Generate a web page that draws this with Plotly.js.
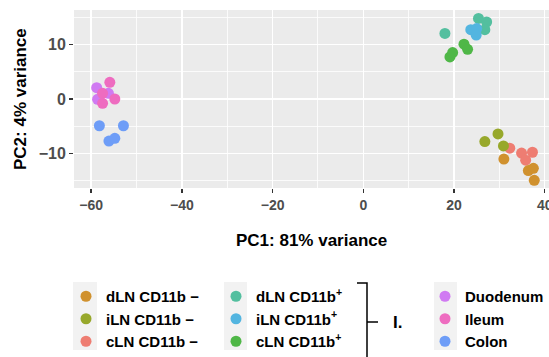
<!DOCTYPE html>
<html>
<head>
<meta charset="utf-8">
<script src="https://cdn.plot.ly/plotly-3.0.1.min.js"></script>
<style>html,body{margin:0;padding:0;background:#fff;}#chart{width:549px;height:357px;}</style>
</head>
<body>
<div id="chart"></div>
<script>
// Group names (legend labels)
const groupNames = ["cLN CD11b −", "dLN CD11b −", "iLN CD11b −",
                    "dLN CD11b<sup>+</sup>", "iLN CD11b<sup>+</sup>", "cLN CD11b<sup>+</sup>",
                    "Duodenum", "Ileum", "Colon"];
const groupColors = ["#EE7D72", "#D0912E", "#97A82B",
                     "#53BF9F", "#53B5E0", "#4FB747",
                     "#D07AF2", "#EE6CC0", "#6E9DF7"];
const groupLegend = ["legend", "legend", "legend",
                     "legend2", "legend2", "legend2",
                     "legend3", "legend3", "legend3"];
const groupRank = [3, 1, 2, 1, 2, 3, 1, 2, 3];

// PC1 / PC2 values per group
const pc1 = [
  [32.3, 34.9, 35.8, 37.3],          // cLN CD11b-
  [31.0, 36.4, 37.5, 37.7],          // dLN CD11b-
  [26.8, 29.7, 30.9],                // iLN CD11b-
  [18.0, 25.4, 27.2, 26.8],          // dLN CD11b+
  [23.7, 25.0, 24.9],                // iLN CD11b+
  [19.1, 19.7, 22.2, 23.0],          // cLN CD11b+
  [-58.8, -58.6, -56.2],             // Duodenum
  [-55.9, -57.5, -57.5, -54.8],      // Ileum
  [-58.2, -52.9, -56.1, -54.8]       // Colon
];
const pc2 = [
  [-9.0, -9.9, -11.2, -9.75],
  [-11.0, -13.1, -12.7, -14.9],
  [-7.8, -6.4, -8.6],
  [12.0, 14.75, 14.1, 12.7],
  [12.7, 12.9, 11.7],
  [7.7, 8.5, 10.05, 9.1],
  [2.07, -0.06, 1.04],
  [3.05, 1.04, -0.8, 0.0],
  [-4.9, -4.9, -7.7, -7.2]
];

const xTickVals = [-60, -40, -20, 0, 20, 40];
const xTickText = ["\u221260", "\u221240", "\u221220", "0", "20", "40"];
const yTickVals = [-10, 0, 10];
const yTickText = ["\u221210", "0", "10"];
const xTitle = "PC1: 81% variance";
const yTitle = "PC2: 4% variance";

const FONT = "Liberation Sans, Arial, Helvetica, sans-serif";

const traces = groupNames.map((name, i) => ({
  type: "scatter",
  mode: "markers",
  name: name,
  x: pc1[i],
  y: pc2[i],
  legend: groupLegend[i],
  legendrank: groupRank[i],
  marker: {color: groupColors[i], size: 11, line: {width: 0}},
  hoverinfo: "skip"
}));

// plot area geometry helpers for decoration shapes (paper coords)
const L = 74, R = 549, T = 10, B = 188;
const px = v => (v - L) / (R - L);
const py = v => (B - v) / (B - T);

const legendCommon = {
  bgcolor: "rgba(0,0,0,0)",
  font: {family: FONT, size: 15, color: "#000", weight: "bold"},
  xref: "container", yref: "container",
  yanchor: "top", xanchor: "left",
  itemclick: false, itemdoubleclick: false,
  tracegroupgap: 0
};

const titleFont = {family: FONT, size: 17, color: "#000", weight: "bold"};

const layout = {
  width: 549, height: 357,
  margin: {l: L, r: 549 - R, t: T, b: 357 - B, autoexpand: false},
  paper_bgcolor: "#ffffff",
  plot_bgcolor: "#EBEBEB",
  showlegend: true,
  legend: Object.assign({}, legendCommon, {x: 66 / 549, y: 1 - 280 / 357}),
  legend2: Object.assign({}, legendCommon, {x: 216 / 549, y: 1 - 280 / 357}),
  legend3: Object.assign({}, legendCommon, {x: 425 / 549, y: 1 - 280 / 357}),
  xaxis: {
    range: [-63.8, 40.95],
    tickvals: xTickVals, ticktext: xTickText, tickangle: 0,
    ticklabeloverflow: "allow",
    ticks: "outside", ticklen: 4, tickwidth: 1.5, tickcolor: "#333333",
    tickfont: {family: FONT, size: 14, color: "#4D4D4D", weight: "bold"},
    showgrid: true, gridcolor: "#FFFFFF", gridwidth: 1.6,
    minor: {tickvals: [-50, -30, -10, 10, 30], showgrid: true, gridcolor: "#FFFFFF", gridwidth: 0.8, ticks: ""},
    zeroline: false, showline: false,
    automargin: false
  },
  yaxis: {
    range: [-16.3, 16.3],
    tickvals: yTickVals, ticktext: yTickText,
    ticks: "outside", ticklen: 4, tickwidth: 1.5, tickcolor: "#333333",
    tickfont: {family: FONT, size: 16, color: "#4D4D4D", weight: "bold"},
    showgrid: true, gridcolor: "#FFFFFF", gridwidth: 1.6,
    minor: {tickvals: [-15, -5, 5, 15], showgrid: true, gridcolor: "#FFFFFF", gridwidth: 0.8, ticks: ""},
    zeroline: false, showline: false,
    automargin: false
  },
  shapes: [
    {type: "rect", xref: "paper", yref: "paper", x0: px(73), x1: px(97), y0: py(350), y1: py(282), fillcolor: "#F2F2F2", line: {width: 0}, layer: "below"},
    {type: "rect", xref: "paper", yref: "paper", x0: px(224), x1: px(247), y0: py(350), y1: py(282), fillcolor: "#F2F2F2", line: {width: 0}, layer: "below"},
    {type: "rect", xref: "paper", yref: "paper", x0: px(434), x1: px(457), y0: py(350), y1: py(282), fillcolor: "#F2F2F2", line: {width: 0}, layer: "below"},
    {type: "path", xref: "paper", yref: "paper",
     path: `M ${px(357)} ${py(283)} L ${px(367)} ${py(283)} L ${px(367)} ${py(360)}`,
     line: {color: "#000", width: 1.5}},
    {type: "line", xref: "paper", yref: "paper", x0: px(367), x1: px(378), y0: py(322), y1: py(322), line: {color: "#000", width: 1.5}}
  ],
  annotations: [
    {text: xTitle, xref: "paper", yref: "paper", x: px(311), y: py(240), xanchor: "center", yanchor: "middle",
     showarrow: false, font: titleFont},
    {text: yTitle, xref: "paper", yref: "paper", x: px(20), y: py(99), xanchor: "center", yanchor: "middle",
     textangle: -90, showarrow: false, font: titleFont},
    {text: "I.", xref: "paper", yref: "paper", x: px(391), y: py(322), xanchor: "left", yanchor: "middle",
     showarrow: false, font: titleFont}
  ]
};

Plotly.newPlot("chart", traces, layout, {displayModeBar: false, staticPlot: true});
</script>
</body>
</html>
